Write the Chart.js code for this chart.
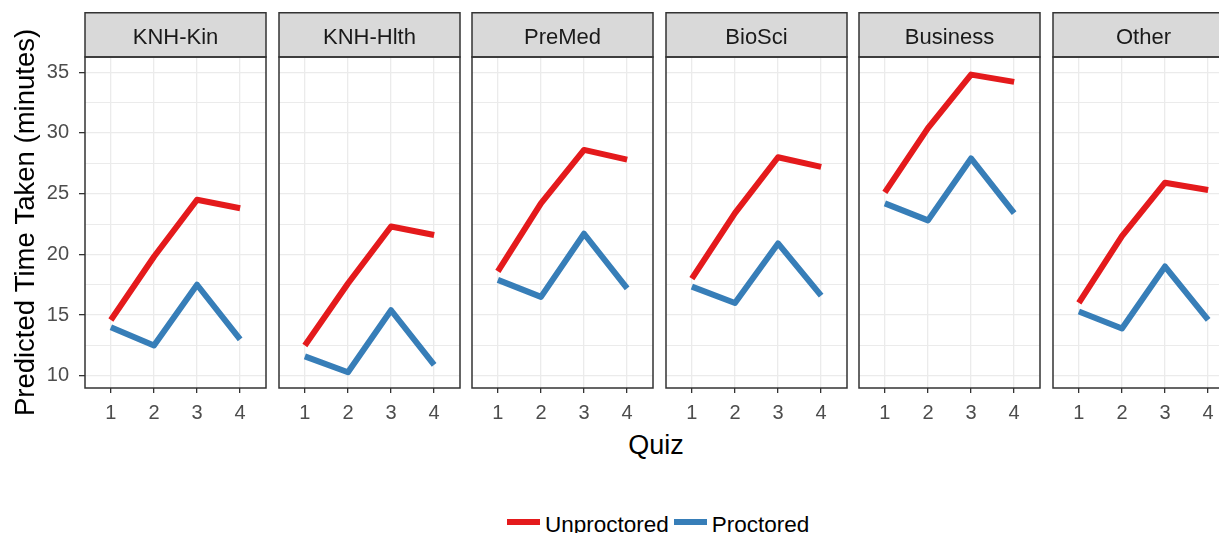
<!DOCTYPE html>
<html>
<head>
<meta charset="utf-8">
<script src="https://cdn.jsdelivr.net/npm/chart.js@4.4.1/dist/chart.umd.min.js"></script>
<style>
  body { margin: 0; background: #fff; }
  #wrap { position: relative; width: 1219px; height: 533px; overflow: hidden; font-family: "Liberation Sans", Arial, sans-serif; }
  #wrap canvas { position: absolute; }
  #quiz { position: absolute; left: 556px; top: 432px; width: 200px; text-align: center; font-size: 27px; line-height: 27px; color: #000; }
  #legend { position: absolute; left: 507px; top: 514px; display: flex; align-items: center; }
  #legend .key { display: inline-block; width: 33px; height: 6px; margin-right: 5px; position: relative; top: -3px; }
  #legend .txt { font-size: 22.5px; line-height: 22px; color: #000; margin-right: 5px; }
</style>
</head>
<body>
<div id="wrap">
  <div id="quiz">Quiz</div>
  <div id="legend"></div>
</div>
<script>
// facets, x categories and y ticks
const programs = ['KNH-Kin', 'KNH-Hlth', 'PreMed', 'BioSci', 'Business', 'Other'];
const quizzes = [1, 2, 3, 4];
const yTicks = [10, 15, 20, 25, 30, 35];

// predicted minutes, one row per program (quiz 1..4)
const unproctored = [
    [14.6, 19.8, 24.5, 23.8],
    [12.5, 17.6, 22.3, 21.6],
    [18.6, 24.2, 28.6, 27.8],
    [18.0, 23.4, 28.0, 27.2],
    [25.1, 30.4, 34.8, 34.2],
    [16.0, 21.5, 25.9, 25.3]
];
const proctored = [
    [14.0, 12.5, 17.5, 13.0],
    [11.6, 10.3, 15.4, 10.9],
    [17.9, 16.5, 21.7, 17.2],
    [17.35, 16.0, 20.9, 16.6],
    [24.2, 22.8, 27.9, 23.4],
    [15.3, 13.9, 19.0, 14.6]
];

const seriesNames = ['Unproctored', 'Proctored'];
const seriesColors = ['#E41A1C', '#377EB8'];

const FONT = '"Liberation Sans", Arial, sans-serif';
const panelLeft = [85, 279, 472, 666, 859, 1053];
const panelWidth = 181;

// grid at major ticks plus the half-way minor lines
var gridValues = [];
for (var t = 0; t < yTicks.length; t++) {
    gridValues.push(yTicks[t]);
    if (t < yTicks.length - 1) gridValues.push((yTicks[t] + yTicks[t + 1]) / 2);
}

const facetBox = {
    id: 'facetBox',
    beforeDraw: function(chart) {
        var ctx = chart.ctx, a = chart.chartArea, tb = chart.titleBlock;
        ctx.save();
        ctx.fillStyle = '#D9D9D9';
        ctx.fillRect(a.left, tb.top, a.right - a.left, a.top - tb.top);
        ctx.restore();
    },
    afterDraw: function(chart) {
        var ctx = chart.ctx, a = chart.chartArea, tb = chart.titleBlock;
        ctx.save();
        ctx.strokeStyle = '#333333';
        ctx.lineWidth = 1.5;
        ctx.strokeRect(a.left, tb.top + 0.75, a.right - a.left, a.top - tb.top - 0.75);
        ctx.strokeRect(a.left, a.top, a.right - a.left, a.bottom - a.top);
        ctx.restore();
    }
};

function points(values) {
    return quizzes.map(function(q, k) { return {x: q, y: values[k]}; });
}

var wrap = document.getElementById('wrap');

function DessinerPanneau(i) {
    var first = (i == 0);
    var padL = first ? 85 : 1;
    var canvas = document.createElement('canvas');
    canvas.width = padL + panelWidth + 2;
    canvas.height = 413;
    canvas.style.left = (panelLeft[i] - padL) + 'px';
    canvas.style.top = '12px';
    wrap.appendChild(canvas);

    new Chart(canvas, {
        type: 'line',
        data: {
            datasets: [{
                label: seriesNames[0],
                data: points(unproctored[i]),
                borderColor: seriesColors[0]
            },
            {
                label: seriesNames[1],
                data: points(proctored[i]),
                borderColor: seriesColors[1]
            }]
        },
        options: {
            responsive: false,
            animation: false,
            layout: { padding: { left: 0, right: 2, top: 0, bottom: 0 } },
            elements: {
                line: { borderWidth: 6, tension: 0, fill: false, borderCapStyle: 'butt', borderJoinStyle: 'round' },
                point: { radius: 0, hoverRadius: 0 }
            },
            plugins: {
                legend: { display: false },
                tooltip: { enabled: false },
                title: {
                    display: true,
                    text: programs[i],
                    fullSize: false,
                    color: '#1A1A1A',
                    font: { family: FONT, size: 22, weight: 'normal', lineHeight: 1.2 },
                    padding: { top: 12.5, bottom: 6.1 }
                }
            },
            scales: {
                x: {
                    type: 'linear',
                    min: 0.4,
                    max: 4.6,
                    afterBuildTicks: function(s) { s.ticks = quizzes.map(function(v) { return {value: v}; }); },
                    afterFit: function(s) { s.height = 37; },
                    ticks: {
                        autoSkip: false,
                        maxRotation: 0,
                        padding: 8,
                        color: '#4D4D4D',
                        font: { family: FONT, size: 20, lineHeight: 1.2 }
                    },
                    grid: { color: '#EBEBEB', lineWidth: 1.3, tickColor: '#333333', tickLength: 5, tickWidth: 1.3 },
                    border: { display: false }
                },
                y: {
                    type: 'linear',
                    min: 9.0,
                    max: 36.25,
                    afterBuildTicks: function(s) { s.ticks = gridValues.map(function(v) { return {value: v}; }); },
                    afterFit: function(s) { s.width = padL; },
                    ticks: {
                        display: first,
                        autoSkip: false,
                        padding: 10,
                        color: '#4D4D4D',
                        font: { family: FONT, size: 20, lineHeight: 1.0 },
                        callback: function(v) { return yTicks.indexOf(v) >= 0 ? String(v) : ''; }
                    },
                    grid: {
                        color: '#EBEBEB',
                        lineWidth: function(c) { return yTicks.indexOf(c.tick.value) >= 0 ? 1.3 : 1.0; },
                        drawTicks: first,
                        tickLength: 6,
                        tickWidth: 1.3,
                        tickColor: function(c) { return yTicks.indexOf(c.tick.value) >= 0 ? '#333333' : 'rgba(0,0,0,0)'; }
                    },
                    border: { display: false },
                    title: {
                        display: true && first,
                        text: 'Predicted Time Taken (minutes)',
                        color: '#000000',
                        font: { family: FONT, size: 27.5, lineHeight: 1.2 },
                        padding: { top: 9.5, bottom: 0 }
                    }
                }
            }
        },
        plugins: [facetBox]
    });
}

for (var p = 0; p < programs.length; p++) DessinerPanneau(p);

// legend under the panels
var legend = document.getElementById('legend');
seriesNames.forEach(function(name, k) {
    var key = document.createElement('span');
    key.className = 'key';
    key.style.background = seriesColors[k];
    var txt = document.createElement('span');
    txt.className = 'txt';
    txt.textContent = name;
    legend.appendChild(key);
    legend.appendChild(txt);
});
</script>
</body>
</html>
